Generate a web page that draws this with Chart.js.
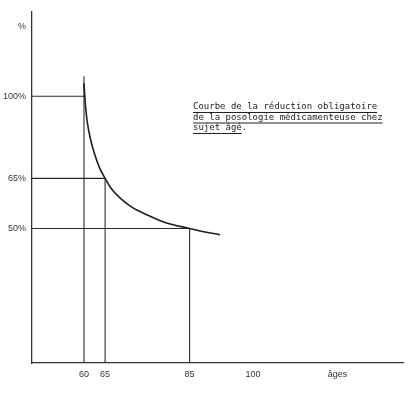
<!DOCTYPE html>
<html>
<head>
<meta charset="utf-8">
<script src="https://cdn.jsdelivr.net/npm/chart.js@4/dist/chart.umd.min.js"></script>
<style>
  html, body { margin: 0; padding: 0; background: #fff; }
  #wrap { width: 417px; height: 395px; }
</style>
</head>
<body>
<div id="wrap"><canvas id="chart"></canvas></div>
<script>
// curve (age, % of the adult dose)
const ages = [60.0, 60.36, 60.83, 61.55, 62.49, 63.67, 65, 66.63, 68.76, 71.6, 75.15, 79.18, 85, 88.64, 92.19];
const doses = [107.1, 95.2, 86.7, 79.8, 74.0, 68.8, 65, 61.3, 58.4, 55.7, 53.6, 51.6, 50, 49.1, 48.4];

// guide lines: age, dose level, top of the vertical line
const markAges = [60, 65, 85];
const markDoses = [100, 65, 50];
const markTops = [111, 65, 50];

const xTicks = [60, 65, 85, 100];
const xTitle = "âges";
const yTicks = [50, 65, 100];
const yTitle = "%";

const noteLines = [
    "Courbe de la réduction obligatoire",
    "de la posologie médicamenteuse chez",
    "sujet âgé."
];

const X_MIN = 47.7, X_MAX = 135.5, X_TITLE_AT = 120;
const Y_MIN = 24.7, Y_MAX = 156, Y_TITLE_AT = 144;
const ink = "#2a2a2a";

const datasets = [{
    data: ages.map((a, i) => ({x: a, y: doses[i]})),
    borderColor: "#1e1e1e",
    borderWidth: 1.6,
    pointRadius: 0,
    cubicInterpolationMode: "monotone"
}];
markAges.forEach((a, i) => {
    datasets.push({
        data: [{x: X_MIN, y: markDoses[i]}, {x: a, y: markDoses[i]}],
        borderColor: ink, borderWidth: 1.1, pointRadius: 0
    });
    datasets.push({
        data: [{x: a, y: Y_MIN}, {x: a, y: markTops[i]}],
        borderColor: ink, borderWidth: 1.1, pointRadius: 0
    });
});

const notePlugin = {
    id: "note",
    afterDraw(chart) {
        const ctx = chart.ctx;
        ctx.save();
        ctx.font = "9px 'DejaVu Sans Mono'";
        ctx.fillStyle = "#222";
        ctx.strokeStyle = "#222";
        ctx.lineWidth = 1;
        ctx.textBaseline = "alphabetic";
        noteLines.forEach((t, i) => {
            const y = 109 + i * 10.5;
            ctx.fillText(t, 193, y);
            const w = ctx.measureText(t.replace(/\.$/, "")).width;
            ctx.beginPath();
            ctx.moveTo(193, y + 3.5);
            ctx.lineTo(193 + w, y + 3.5);
            ctx.stroke();
        });
        ctx.restore();
    }
};

new Chart(document.getElementById("chart"), {
    type: "line",
    data: {datasets},
    plugins: [notePlugin],
    options: {
        responsive: true,
        maintainAspectRatio: false,
        animation: false,
        layout: {padding: {top: 10, right: 14, left: 0, bottom: 0}},
        plugins: {legend: {display: false}, tooltip: {enabled: false}},
        scales: {
            x: {
                type: "linear",
                min: X_MIN, max: X_MAX,
                grid: {display: false, drawTicks: false},
                border: {display: true, color: "#333", width: 1.3},
                afterFit: s => { s.height = 32; },
                afterBuildTicks: s => { s.ticks = xTicks.concat([X_TITLE_AT]).map(v => ({value: v})); },
                ticks: {
                    padding: 6,
                    color: "#333",
                    font: {family: "'Liberation Sans', Arial", size: 9},
                    callback: v => v === X_TITLE_AT ? xTitle : String(v)
                }
            },
            y: {
                type: "logarithmic",
                min: Y_MIN, max: Y_MAX,
                grid: {display: false, drawTicks: false},
                border: {display: true, color: "#333", width: 1.3},
                afterFit: s => { s.width = 32; },
                afterBuildTicks: s => { s.ticks = yTicks.concat([Y_TITLE_AT]).map(v => ({value: v})); },
                ticks: {
                    padding: 6,
                    color: "#333",
                    font: {family: "'Liberation Sans', Arial", size: 9},
                    callback: v => v === Y_TITLE_AT ? yTitle : v + "%"
                }
            }
        }
    }
});
</script>
</body>
</html>
